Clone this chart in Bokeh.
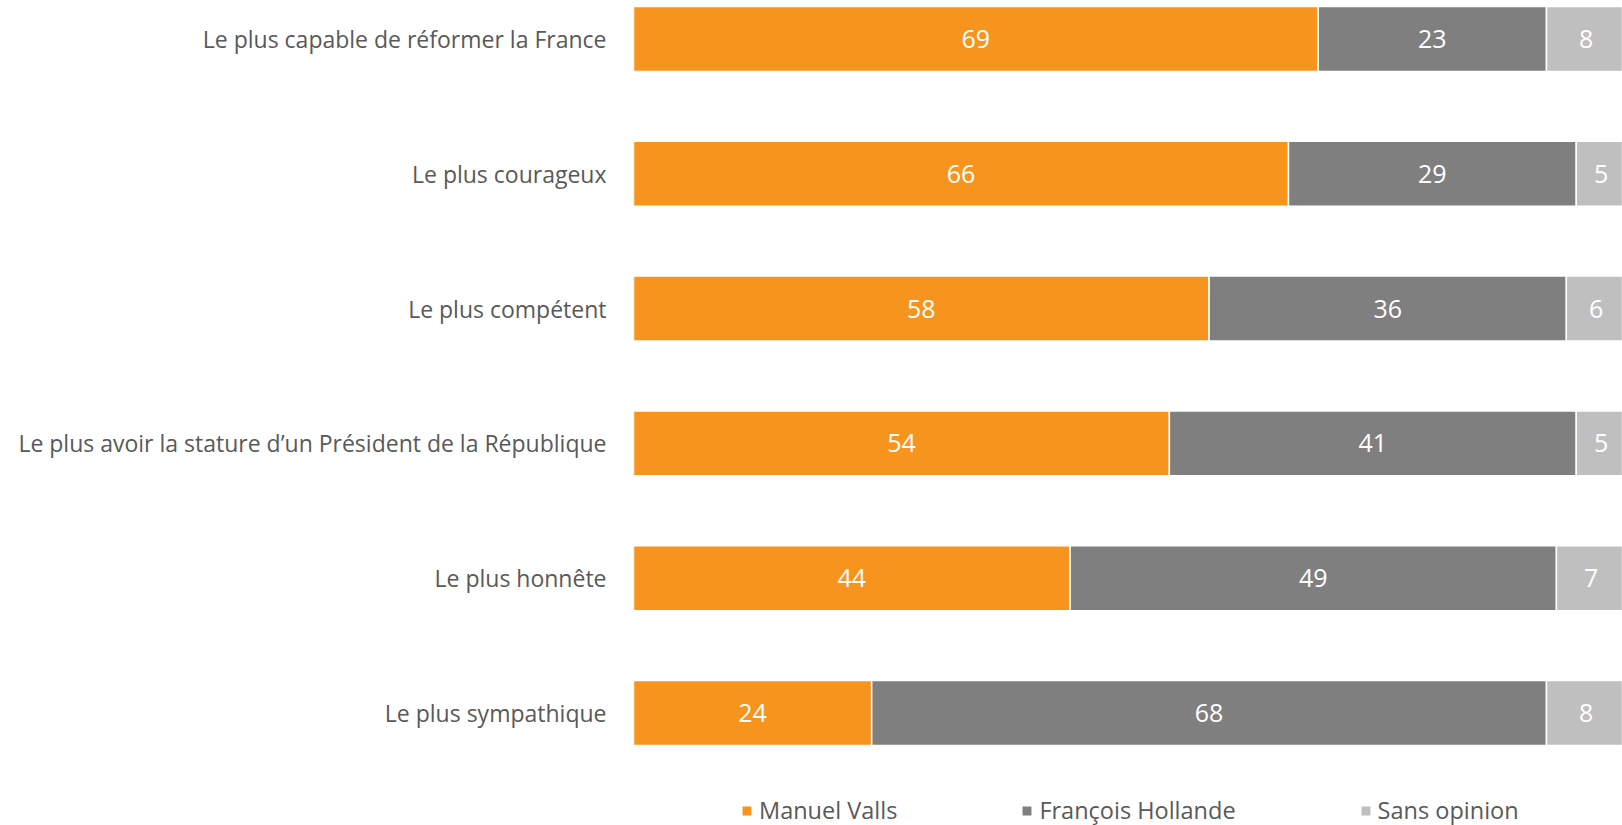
from bokeh.plotting import figure
from bokeh.models import ColumnDataSource, Range1d, Legend, LegendItem
from bokeh.core.properties import value
from bokeh.embed import file_html
from bokeh.resources import INLINE

categories = [
    "Le plus capable de réformer la France",
    "Le plus courageux",
    "Le plus compétent",
    "Le plus avoir la stature d\u2019un Président de la République",
    "Le plus honnête",
    "Le plus sympathique",
]
valls = [69, 66, 58, 54, 44, 24]
hollande = [23, 29, 36, 41, 49, 68]
sans = [8, 5, 6, 5, 7, 8]
series_names = ["Manuel Valls", "François Hollande", "Sans opinion"]
colors = ["#F7941D", "#7F7F7F", "#BFBFBF"]

FONT = "Open Sans"
ypos = list(range(len(categories)))

p = figure(width=1622, height=825, output_backend="svg", toolbar_location=None,
           x_range=Range1d(0, 99.66), y_range=Range1d(5.835, -0.2856),
           min_border_left=633, min_border_right=0, min_border_top=0, min_border_bottom=0)
p.outline_line_color = None
p.grid.visible = False
p.xaxis.visible = False
p.background_fill_color = "white"
p.border_fill_color = "white"

series = [valls, hollande, sans]
renderers = []
left = [0] * len(categories)
for name, vals, col in zip(series_names, series, colors):
    right = [l + v for l, v in zip(left, vals)]
    src = ColumnDataSource(dict(y=ypos, left=left, right=right,
                                mid=[(l + r) / 2 for l, r in zip(left, right)],
                                lab=[str(v) for v in vals]))
    r = p.hbar(y="y", left="left", right="right", height=0.482, source=src,
               fill_color=col, line_color="white", line_width=1.5)
    renderers.append(r)
    p.text(x="mid", y="y", text="lab", source=src, text_color="white",
           text_font=value(FONT), text_font_size="25px",
           text_align="center", text_baseline="middle")
    left = right

yax = p.yaxis[0]
yax.ticker = ypos
yax.major_label_overrides = {i: c for i, c in enumerate(categories)}
yax.axis_line_color = None
yax.major_tick_line_color = None
yax.minor_tick_line_color = None
yax.major_label_standoff = 21
yax.major_label_text_font = FONT
yax.major_label_text_font_size = "23px"
yax.major_label_text_color = "#595959"

legend = Legend(items=[LegendItem(label=n, renderers=[r]) for n, r in zip(series_names, renderers)],
                orientation="horizontal", location=(107, -1),
                glyph_width=13, glyph_height=13, spacing=123, padding=0, margin=0,
                border_line_color=None, background_fill_alpha=0,
                label_text_font=FONT, label_text_font_size="23.5px",
                label_text_color="#595959", label_standoff=6)
p.add_layout(legend)

open("out.html", "w").write(file_html(p, INLINE))
